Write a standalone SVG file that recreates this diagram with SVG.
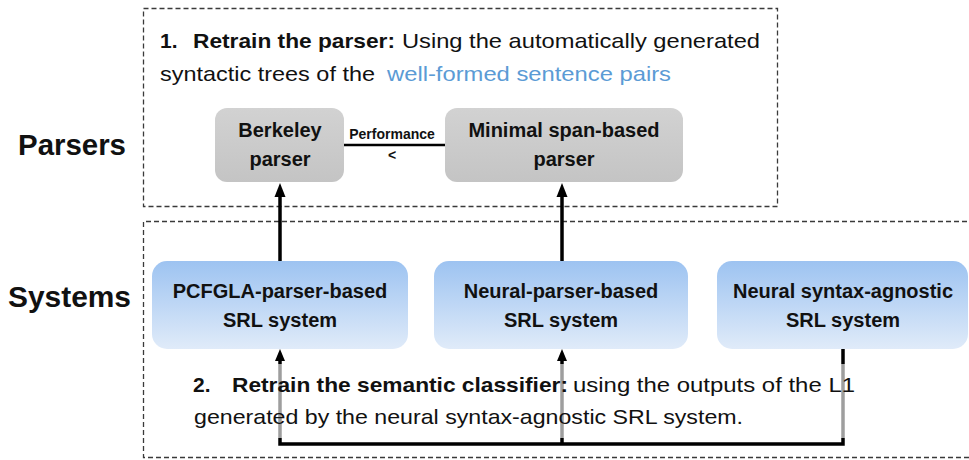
<svg xmlns="http://www.w3.org/2000/svg" width="969" height="460" viewBox="0 0 969 460">
  <defs>
    <style>
      text { font-family: "Liberation Sans", Arial, sans-serif; fill: #111; }
      .b { font-weight: bold; }
      .body { font-size: 21px; }
      .side { font-size: 29px; font-weight: bold; }
      .node { font-size: 20px; font-weight: bold; text-anchor: middle; }
      .small { font-size: 14px; font-weight: bold; text-anchor: middle; }
      .blue { fill: #5b9bd5; }
      .frame { fill: none; stroke: #3a3a3a; stroke-width: 1.3; stroke-dasharray: 5 3; }
      .gray { fill: url(#grayFill); }
      .sys { fill: url(#blueFill); }
      .link { fill: none; stroke: #000; stroke-linejoin: miter; }
    </style>
    <linearGradient id="grayFill" x1="0" y1="0" x2="0" y2="1">
      <stop offset="0" stop-color="#d2d2d2"/>
      <stop offset="1" stop-color="#c4c4c4"/>
    </linearGradient>
    <linearGradient id="blueFill" x1="0" y1="0" x2="0" y2="1">
      <stop offset="0" stop-color="#9dc3f1"/>
      <stop offset="1" stop-color="#e0ebf9"/>
    </linearGradient>
    <marker id="headBig" markerUnits="userSpaceOnUse" markerWidth="16" markerHeight="14" refX="4" refY="0" viewBox="0 -7 16 14" orient="auto">
      <path d="M0,-5.5 L14,0 L0,5.5 z" fill="#000"/>
    </marker>
    <marker id="headSmall" markerUnits="userSpaceOnUse" markerWidth="14" markerHeight="12" refX="3" refY="0" viewBox="0 -6 14 12" orient="auto">
      <path d="M0,-5 L12,0 L0,5 z" fill="#000"/>
    </marker>
  </defs>

  <rect width="969" height="460" fill="#fff"/>

  <!-- section frames -->
  <g id="frames">
    <rect class="frame" x="143.5" y="8.5" width="634" height="198"/>
    <path class="frame" d="M975,221.5 H143.5 V457.5 H975"/>
  </g>

  <!-- side labels -->
  <g id="labels">
    <text class="side" x="18" y="155" textLength="108" lengthAdjust="spacingAndGlyphs">Parsers</text>
    <text class="side" x="8" y="307" textLength="123" lengthAdjust="spacingAndGlyphs">Systems</text>
  </g>

  <!-- step 1 text -->
  <g id="step1">
    <text class="body b" x="160" y="48">1.</text>
    <text class="body b" x="193" y="48" textLength="202" lengthAdjust="spacingAndGlyphs">Retrain the parser:</text>
    <text class="body" x="402" y="48" textLength="358" lengthAdjust="spacingAndGlyphs">Using the automatically generated</text>
    <text class="body" x="160" y="81" textLength="215" lengthAdjust="spacingAndGlyphs">syntactic trees of the</text>
    <text class="body blue" x="387" y="81" textLength="284" lengthAdjust="spacingAndGlyphs">well-formed sentence pairs</text>
  </g>

  <!-- connectors -->
  <g id="connectors">
    <line class="link" x1="344" y1="145" x2="445" y2="145" stroke-width="2.5"/>
    <line class="link" x1="280" y1="261" x2="280" y2="193" stroke-width="3.5" marker-end="url(#headBig)"/>
    <line class="link" x1="562" y1="261" x2="562" y2="193" stroke-width="3.5" marker-end="url(#headBig)"/>
    <path class="link" d="M843,349 V444 H280 V358" stroke-width="3.5" marker-end="url(#headSmall)"/>
    <path class="link" d="M562,444 V358" stroke-width="3.5" marker-end="url(#headSmall)"/>
  </g>

  <g id="performance">
    <text class="small" x="392" y="139">Performance</text>
    <text class="small" x="392" y="160">&lt;</text>
  </g>

  <!-- parsers -->
  <g id="berkeley">
    <rect class="gray" x="215" y="108" width="129" height="74" rx="12"/>
    <text class="node" x="280" y="137">Berkeley</text>
    <text class="node" x="280" y="166">parser</text>
  </g>
  <g id="minimal">
    <rect class="gray" x="445" y="108" width="238" height="74" rx="12"/>
    <text class="node" x="564" y="137">Minimal span-based</text>
    <text class="node" x="564" y="166">parser</text>
  </g>

  <!-- SRL systems -->
  <g id="pcfgla">
    <rect class="sys" x="152" y="261" width="256" height="88" rx="15"/>
    <text class="node" x="280" y="298">PCFGLA-parser-based</text>
    <text class="node" x="280" y="327">SRL system</text>
  </g>
  <g id="neural-parser">
    <rect class="sys" x="434" y="261" width="254" height="88" rx="15"/>
    <text class="node" x="561" y="298">Neural-parser-based</text>
    <text class="node" x="561" y="327">SRL system</text>
  </g>
  <g id="syntax-agnostic">
    <rect class="sys" x="717" y="261" width="251" height="88" rx="15"/>
    <text class="node" x="843" y="298">Neural syntax-agnostic</text>
    <text class="node" x="843" y="327">SRL system</text>
  </g>

  <!-- step 2 text, on a light backing that dims the lines behind it -->
  <g id="step2">
    <rect x="186" y="364" width="682" height="74" fill="#fff" fill-opacity="0.62"/>
    <text class="body b" x="193" y="392">2.</text>
    <text class="body b" x="232" y="392" textLength="336" lengthAdjust="spacingAndGlyphs">Retrain the semantic classifier:</text>
    <text class="body" x="573" y="392" textLength="282" lengthAdjust="spacingAndGlyphs">using the outputs of the L1</text>
    <text class="body" x="194" y="424" textLength="549" lengthAdjust="spacingAndGlyphs">generated by the neural syntax-agnostic SRL system.</text>
  </g>
</svg>
